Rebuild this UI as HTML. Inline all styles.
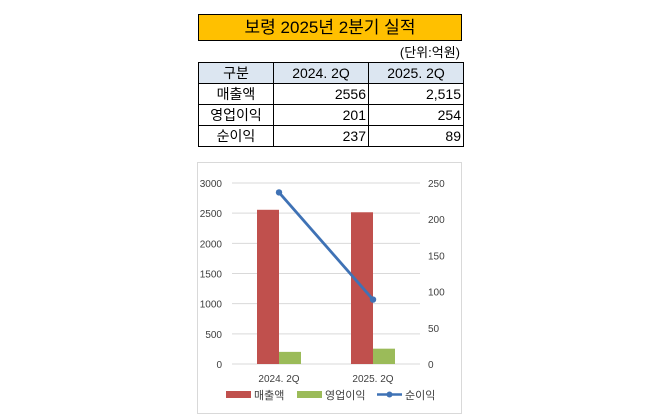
<!DOCTYPE html>
<html><head><meta charset="utf-8"><style>
body{margin:0;width:658px;height:419px;background:#fff;position:relative;font-family:"Liberation Sans","Noto Sans CJK KR",sans-serif;overflow:hidden}
.title{position:absolute;left:198px;top:14px;width:262px;height:25px;background:#FFC000;border:1.5px solid #000;text-align:center;font-size:17px;line-height:25px}
.unit{position:absolute;left:380px;top:42px;width:80px;text-align:right;font-size:13px}
table{position:absolute;left:198px;top:62px;border-collapse:collapse;font-size:14px}
td{border:1px solid #000;height:20px;padding:0 2px;line-height:20px}
thead td{background:#DCE6F1;text-align:center}
td.n{text-align:right}
.chart{position:absolute;left:197px;top:162px;width:263px;height:250px;border:1px solid #d9d9d9}
</style></head><body>
<div class="title">보령 2025년 2분기 실적</div>
<div class="unit">(단위:억원)</div>
<table>
<thead><tr><td style="width:70px">구분</td><td style="width:90px">2024. 2Q</td><td style="width:90px">2025. 2Q</td></tr></thead>
<tbody>
<tr><td style="text-align:center">매출액</td><td class="n">2556</td><td class="n">2,515</td></tr>
<tr><td style="text-align:center">영업이익</td><td class="n">201</td><td class="n">254</td></tr>
<tr><td style="text-align:center">순이익</td><td class="n">237</td><td class="n">89</td></tr>
</tbody></table>
<div class="chart"></div>
<svg id="c" width="658" height="419" style="position:absolute;left:0;top:0" font-family="Liberation Sans, Noto Sans CJK KR, sans-serif"></svg>
<script>
const categories=["2024. 2Q","2025. 2Q"];
const sales=[2556,2515];
const opProfit=[201,254];
const netProfit=[237,89];
const leftTicks=[0,500,1000,1500,2000,2500,3000];
const rightTicks=[0,50,100,150,200,250];
const svg=document.getElementById('c');const NS='http://www.w3.org/2000/svg';
function mk(t,a,txt){const e=document.createElementNS(NS,t);for(const k in a)e.setAttribute(k,a[k]);if(txt!==undefined)e.textContent=txt;svg.appendChild(e);return e;}
const x0=232,x1=420,yB=364,yT=183;
const yL=v=>yB-(v/3000)*(yB-yT);
const yR=v=>yB-(v/250)*(yB-yT);
const cx=i=>x0+(x1-x0)*(i+0.5)/categories.length;
leftTicks.forEach(t=>{const g=mk('line',{x1:x0,x2:x1,y1:yL(t),y2:yL(t),stroke:'#d9d9d9','stroke-width':1});

const l=mk('text',{x:222,y:yL(t)+4,'text-anchor':'end','font-size':10,fill:'#404040'},t);
});
rightTicks.forEach(t=>{const l=mk('text',{x:428,y:yR(t)+4,'font-size':10,fill:'#404040'},t);
});
categories.forEach((c,i)=>{
const b=mk('rect',{x:cx(i)-22,y:yL(sales[i]),width:22,height:yB-yL(sales[i]),fill:'#C0504D'});

const g=mk('rect',{x:cx(i),y:yL(opProfit[i]),width:22,height:yB-yL(opProfit[i]),fill:'#9BBB59'});

const l=mk('text',{x:cx(i),y:382,'text-anchor':'middle','font-size':10,fill:'#404040'},c);
});
const pl=mk('polyline',{points:netProfit.map((v,i)=>cx(i)+','+yR(v)).join(' '),fill:'none',stroke:'#3F72B5','stroke-width':2.8});

netProfit.forEach((v,i)=>{const p=mk('circle',{cx:cx(i),cy:yR(v),r:3.2,fill:'#3F72B5'});
});
const lg=[[226,'매출액','#C0504D','rect'],[297,'영업이익','#9BBB59','rect'],[377,'순이익','#3F72B5','line']];
lg.forEach(([x,t,c,k])=>{
if(k==='rect'){const r=mk('rect',{x:x,y:391,width:25,height:7,fill:c});
const tx=mk('text',{x:x+28,y:399,'font-size':11,fill:'#404040'},t);}
else{const l=mk('line',{x1:x,x2:x+25,y1:394.5,y2:394.5,stroke:c,'stroke-width':2.5});
const d=mk('circle',{cx:x+12.5,cy:394.5,r:3,fill:c});
const tx=mk('text',{x:x+28,y:399,'font-size':11,fill:'#404040'},t);}});
</script>
</body></html>
